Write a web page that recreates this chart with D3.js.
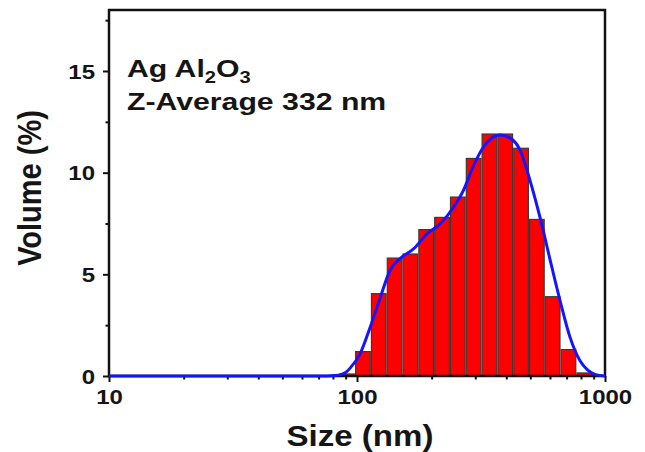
<!DOCTYPE html>
<html>
<head>
  <meta charset="utf-8">
  <title>Ag Al2O3 size distribution</title>
  <script src="https://unpkg.com/d3@7.8.2/dist/d3.min.js"></script>
  <style>
    body { margin: 0; background: #fff; }
    text { font-family: "Liberation Sans", Arial, sans-serif; font-weight: bold; fill: #151515; }
  </style>
</head>
<body>
<script>
  // histogram bins (nm) and volume (%)
  const sizes   = [91.28, 105.7, 122.4, 141.8, 164.2, 190.1, 220.2, 255.0, 295.3, 342.0, 396.1, 458.7, 531.2, 615.1, 712.4, 825.0];
  const volumes = [0.1, 1.2, 4.05, 5.8, 6.0, 7.2, 7.8, 8.8, 10.7, 11.9, 11.9, 11.2, 7.7, 3.9, 1.3, 0.15];

  // fitted curve
  const fitSizes   = [10, 76, 81, 86, 90, 94, 103, 113, 124, 136, 150, 169, 192, 217, 245, 268, 294, 323, 354, 378, 415, 455, 499, 547, 601, 659, 723, 793, 850, 910, 1000];
  const fitVolumes = [0, 0, 0.02, 0.07, 0.17, 0.4, 1.1, 2.4, 3.85, 5.2, 5.8, 6.25, 7.0, 7.5, 8.3, 9.1, 10.3, 11.25, 11.75, 11.85, 11.7, 11.1, 9.6, 7.8, 5.7, 3.7, 1.9, 0.75, 0.3, 0.08, 0];

  const xTicks = [10, 100, 1000];
  const xMinor = [20, 30, 40, 50, 60, 70, 80, 90, 200, 300, 400, 500, 600, 700, 800, 900];
  const yTicks = [0, 5, 10, 15];
  const yMinor = [2.5, 7.5, 12.5, 17.5];

  const width = 645, height = 452;
  const plotL = 109, plotR = 605, plotT = 10, plotB = 376;
  const sx = 1.2; // the reference text is stretched sideways

  const svg = d3.select("body").append("svg")
    .attr("width", width)
    .attr("height", height);

  const x = d3.scaleLog().domain([10, 1000]).range([plotL, plotR]);
  const y = d3.scaleLinear().domain([0, 18]).range([plotB, plotT]);

  // bars, one log-spaced bin each
  const half = 0.0314 * 0.94;
  svg.append("g").selectAll("rect")
    .data(sizes)
    .enter()
    .append("rect")
    .attr("x", d => x(d / Math.pow(10, half)))
    .attr("width", d => x(d * Math.pow(10, half)) - x(d / Math.pow(10, half)))
    .attr("y", (d, i) => y(volumes[i]))
    .attr("height", (d, i) => y(0) - y(volumes[i]))
    .style("fill", "#ff0000")
    .style("stroke", "#3a3a3a")
    .style("stroke-width", 1.2);

  // frame
  svg.append("rect")
    .attr("x", plotL).attr("y", plotT)
    .attr("width", plotR - plotL).attr("height", plotB - plotT)
    .style("fill", "none")
    .style("stroke", "#111")
    .style("stroke-width", 2.5);

  // axes
  const xAxis = svg.append("g")
    .attr("transform", `translate(0,${plotB})`)
    .call(d3.axisBottom(x).tickValues(xTicks).tickFormat(d3.format("d")).tickSize(6).tickSizeOuter(0));
  svg.append("g")
    .attr("transform", `translate(0,${plotB})`)
    .call(d3.axisBottom(x).tickValues(xMinor).tickFormat("").tickSize(3.5).tickSizeOuter(0));

  const yAxis = svg.append("g")
    .attr("transform", `translate(${plotL},0)`)
    .call(d3.axisLeft(y).tickValues(yTicks).tickSize(6).tickSizeOuter(0));
  svg.append("g")
    .attr("transform", `translate(${plotL},0)`)
    .call(d3.axisLeft(y).tickValues(yMinor).tickFormat("").tickSize(3.5).tickSizeOuter(0));

  svg.selectAll(".domain").remove();
  svg.selectAll(".tick line").style("stroke", "#111").style("stroke-width", 2);

  xAxis.selectAll("text")
    .attr("y", 28).attr("dy", null)
    .attr("transform", `scale(${sx},1)`)
    .style("font-size", "20px")
    .style("fill", "#151515");

  yAxis.selectAll("text")
    .attr("x", -14 / sx).attr("dy", "0.36em")
    .attr("transform", `scale(${sx},1)`)
    .style("font-size", "20px")
    .style("fill", "#151515");

  // fitted curve
  const line = d3.line()
    .x((d, i) => x(fitSizes[i]))
    .y(d => y(d))
    .curve(d3.curveMonotoneX);

  svg.append("path")
    .datum(fitVolumes)
    .attr("d", line)
    .style("fill", "none")
    .style("stroke", "#1414ff")
    .style("stroke-width", 3);

  // axis titles
  svg.append("text")
    .attr("transform", `translate(${(plotL + plotR) / 2 + 3},446) scale(1.14,1)`)
    .style("text-anchor", "middle")
    .style("font-size", "29px")
    .text("Size (nm)");

  svg.append("text")
    .attr("transform", `translate(41,188) scale(1.14,1) rotate(-90)`)
    .style("text-anchor", "middle")
    .style("font-size", "29px")
    .text("Volume (%)");

  // annotation
  const note = svg.append("g").attr("transform", "translate(127,0) scale(1.26,1)");
  const t1 = note.append("text").attr("y", 77).style("font-size", "24px");
  t1.append("tspan").text("Ag Al");
  t1.append("tspan").attr("dy", 6).style("font-size", "16px").text("2");
  t1.append("tspan").attr("dy", -6).text("O");
  t1.append("tspan").attr("dy", 6).style("font-size", "16px").text("3");
  note.append("text").attr("y", 110).style("font-size", "24px").text("Z-Average 332 nm");
</script>
</body>
</html>
